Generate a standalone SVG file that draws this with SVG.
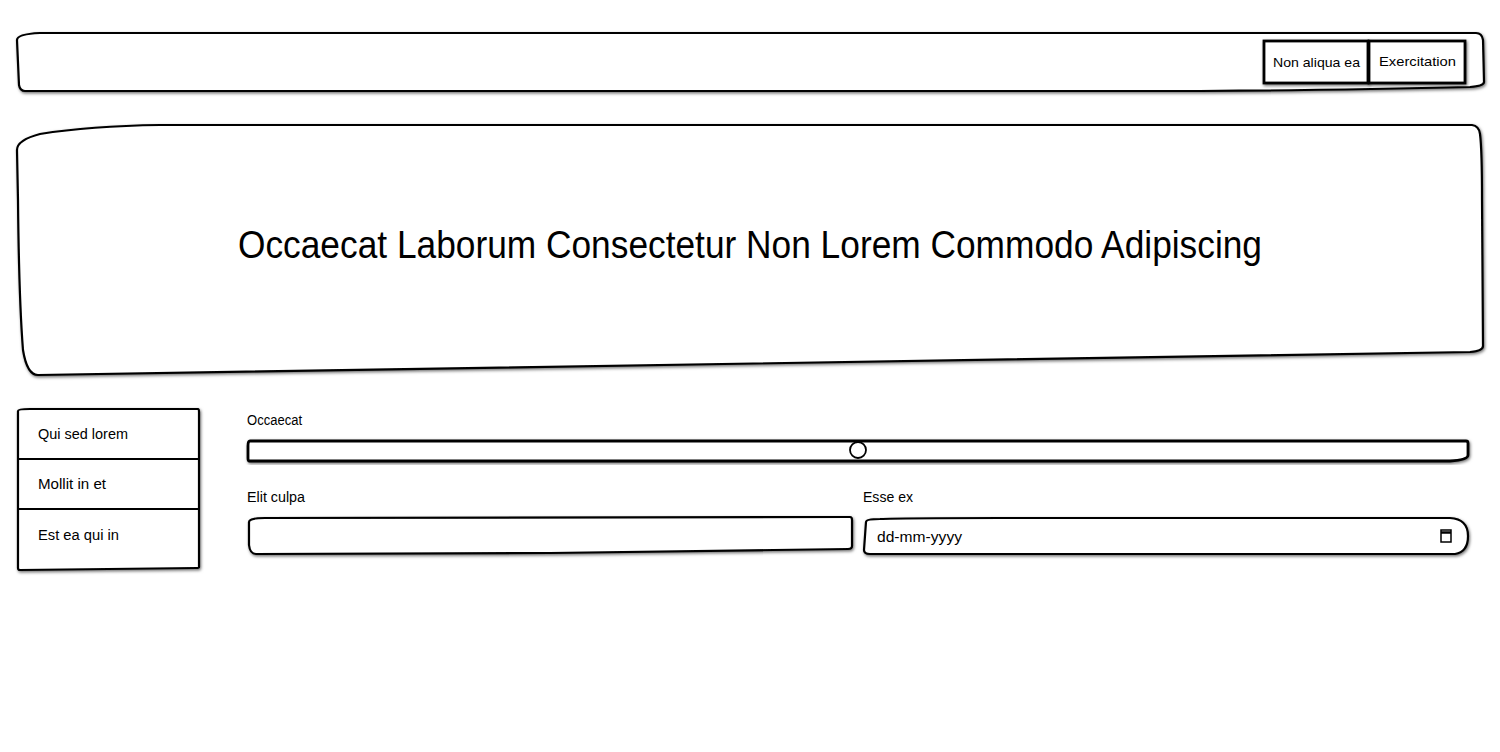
<svg xmlns="http://www.w3.org/2000/svg" width="1500" height="752" viewBox="0 0 1500 752">
<defs>
<filter id="sh" x="-5%" y="-20%" width="110%" height="140%">
<feDropShadow dx="1" dy="1.5" stdDeviation="1.5" flood-color="#000" flood-opacity="0.55"/>
</filter>
</defs>
<style>
.box{fill:#fff;stroke:#000;stroke-width:2.2;stroke-linejoin:round;filter:url(#sh)}
.thick{fill:#fff;stroke:#000;stroke-width:2.8;filter:url(#sh)}
.line{stroke:#000;stroke-width:2.2;fill:none}
.t{font-family:"Liberation Sans","DejaVu Sans",sans-serif;fill:#000;font-size:14px}
.nav{font-size:13px}
.title{font-size:38px}
</style>
<rect width="1500" height="752" fill="#fff"/>

<g id="navbar">
<path class="box" d="M17,40 Q17,34 40,33 L1476,33 Q1482,33 1483,40 L1484,82 Q1484,86 1470,87 Q1350,90 1200,91 L25,91 Q20,91 19,85 Z"/>
</g>
<g id="nav-item-1">
<rect class="thick" x="1264" y="41" width="104" height="42"/>
<text class="t nav" x="1273" y="67" textLength="87" lengthAdjust="spacingAndGlyphs">Non aliqua ea</text>
</g>
<g id="nav-item-2">
<rect class="thick" x="1369" y="41" width="96" height="42"/>
<text class="t nav" x="1379" y="66" textLength="77" lengthAdjust="spacingAndGlyphs">Exercitation</text>
</g>

<g id="hero">
<path class="box" d="M17,150 Q17,140 40,134 Q90,126 160,125 L1472,125 Q1479,126 1480,134 Q1482,150 1482,200 L1483,346 Q1483,351 1470,352 L38,375 Q27,375 23,350 Q19,300 18,200 Z"/>
<text class="t title" x="750" y="258" text-anchor="middle" textLength="1024" lengthAdjust="spacingAndGlyphs">Occaecat Laborum Consectetur Non Lorem Commodo Adipiscing</text>
</g>

<g id="sidebar">
<path class="box" d="M18,411 Q18,409 30,409 L198,409 Q199,409 199,412 L199,567 Q199,568 196,568 L20,570 Q18,570 18,568 Z"/>
<line class="line" x1="18" y1="459" x2="199" y2="459"/>
<line class="line" x1="18" y1="509" x2="199" y2="509"/>
<text class="t" x="38" y="439" textLength="90" lengthAdjust="spacingAndGlyphs">Qui sed lorem</text>
<text class="t" x="38" y="489" textLength="68" lengthAdjust="spacingAndGlyphs">Mollit in et</text>
<text class="t" x="38" y="540" textLength="81" lengthAdjust="spacingAndGlyphs">Est ea qui in</text>
</g>

<g id="slider">
<text class="t" x="247" y="425" textLength="55" lengthAdjust="spacingAndGlyphs">Occaecat</text>
<path class="thick" d="M250,441 L1466,441 Q1468,441 1468,443 L1468,455 Q1468,460 1450,461 L249,461 Q248,461 248,458 L248,446 Q248,441 250,441 Z"/>
<circle cx="858" cy="450" r="8" fill="#fff" stroke="#000" stroke-width="1.8"/>
</g>

<g id="input-elit">
<text class="t" x="247" y="502" textLength="58" lengthAdjust="spacingAndGlyphs">Elit culpa</text>
<path class="box" d="M249,522 Q249,518 265,518 L850,517 Q852,517 852,520 L852,546 Q852,549 848,549 Q700,551 550,553 L256,554 Q250,554 249,545 Z"/>
</g>

<g id="input-esse">
<text class="t" x="863" y="502" textLength="50" lengthAdjust="spacingAndGlyphs">Esse ex</text>
<path class="box" d="M866,522 Q866,519 880,519 Q900,518 1000,518 L1450,518 Q1468,519 1468,536 Q1468,552 1455,554 L870,554 Q864,554 864,550 Z"/>
<text class="t" x="877" y="542" textLength="85" lengthAdjust="spacingAndGlyphs">dd-mm-yyyy</text>
<rect x="1441" y="530" width="10" height="12" fill="none" stroke="#000" stroke-width="1.5"/>
<line x1="1441" y1="532.5" x2="1451" y2="532.5" stroke="#000" stroke-width="2.5"/>
</g>
<g id="connectors"></g>
</svg>
